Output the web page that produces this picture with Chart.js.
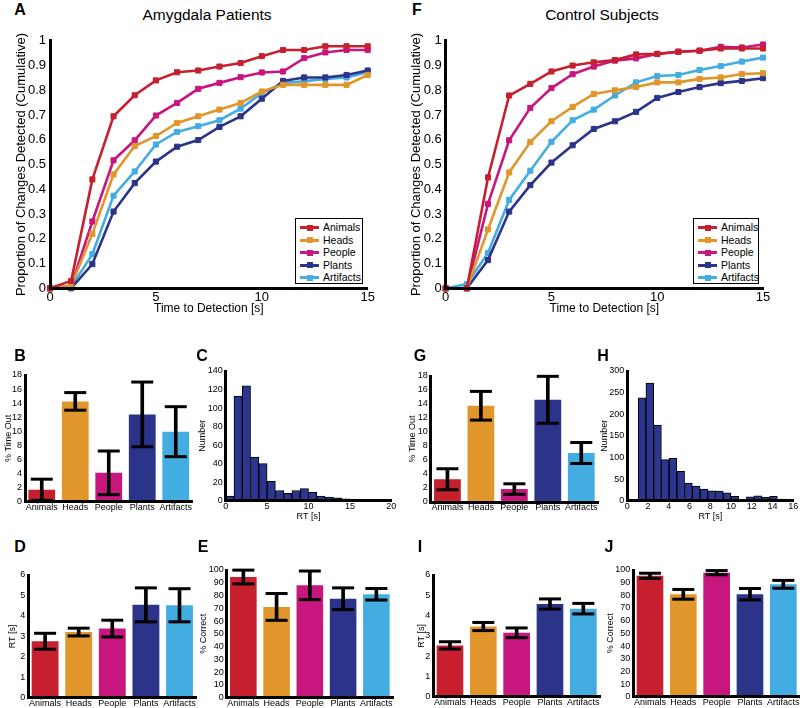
<!DOCTYPE html>
<html><head><meta charset="utf-8">
<script src="https://cdn.jsdelivr.net/npm/chart.js@4.4.0/dist/chart.umd.min.js"></script>
<style>
html,body{margin:0;padding:0;background:#fff;width:800px;height:708px;overflow:hidden;position:relative;font-family:"Liberation Sans",Arial,sans-serif;color:#000;}
.lbl{position:absolute;font-weight:bold;font-size:16px;transform:translate(-50%,-50%);line-height:1;}
.ttl{position:absolute;font-size:15.5px;transform:translate(-50%,-50%);white-space:nowrap;line-height:1;}
.leg{position:absolute;border:1px solid #000;background:#fff;box-sizing:border-box;}
.legrow{position:absolute;left:0;height:12px;font-size:10.5px;line-height:12px;white-space:nowrap;}
.legline{position:absolute;top:5px;height:3px;}
.legsq{position:absolute;top:3.5px;width:6px;height:6px;}
.legtxt{position:absolute;top:0;}
</style></head><body>
<script>
// ---------------- DATA ----------------
const timeSec = [0,1,2,3,4,5,6,7,8,9,10,11,12,13,14,15];
const categories = ['Animals','Heads','People','Plants','Artifacts'];

// A: Amygdala patients, cumulative proportion detected
const patAnimals   = [0,0.03,0.44,0.695,0.78,0.84,0.873,0.88,0.896,0.91,0.938,0.963,0.963,0.978,0.978,0.978];
const patHeads     = [0,0.01,0.22,0.46,0.575,0.615,0.668,0.695,0.722,0.749,0.795,0.822,0.822,0.822,0.822,0.862];
const patPeople    = [0,0.01,0.27,0.517,0.598,0.698,0.749,0.806,0.83,0.853,0.872,0.876,0.93,0.953,0.963,0.963];
const patPlants    = [0,0,0.098,0.31,0.425,0.512,0.572,0.599,0.652,0.695,0.766,0.838,0.852,0.852,0.862,0.88];
const patArtifacts = [0,0.005,0.138,0.374,0.472,0.581,0.632,0.655,0.679,0.726,0.789,0.829,0.836,0.846,0.852,0.873];

// F: Control subjects
const ctlAnimals   = [0,0,0.448,0.779,0.826,0.876,0.9,0.913,0.922,0.945,0.947,0.956,0.96,0.969,0.969,0.969];
const ctlHeads     = [0,0,0.238,0.468,0.591,0.675,0.733,0.785,0.8,0.813,0.832,0.832,0.846,0.852,0.866,0.869];
const ctlPeople    = [0,0,0.341,0.598,0.729,0.809,0.865,0.896,0.92,0.929,0.947,0.956,0.96,0.976,0.973,0.985];
const ctlPlants    = [0,0,0.114,0.31,0.417,0.508,0.578,0.644,0.675,0.713,0.769,0.793,0.813,0.829,0.838,0.849];
const ctlArtifacts = [0,0.017,0.143,0.357,0.475,0.592,0.679,0.722,0.779,0.832,0.858,0.862,0.882,0.898,0.916,0.932];

// B / G: % time out (mean, error)
const patTimeOut    = [1.7,14.25,4.1,12.4,9.95];
const patTimeOutErr = [1.5,1.25,3.1,4.6,3.55];
const ctlTimeOut    = [3.25,13.75,1.85,14.6,7.0];
const ctlTimeOutErr = [1.5,2.05,0.75,3.35,1.5];

// C / H: RT histograms
const patHistBins   = [0.5,1.5,2.5,3.5,4.5,5.5,6.5,7.5,8.5,9.5,10.5,11.5,12.5,13.5,14.5,15.5,16.5,17.5,18.5,19.5];
const patHistCounts = [5,113,124,47,40,21,11,8,11,13,9,5,4,3,2,1,0,0,0,0];
const ctlHistBins   = [1.423,2.168,2.913,3.658,4.403,5.148,5.893,6.638,7.383,8.128,8.873,9.618,10.363,11.108,11.853,12.598,13.343,14.088,14.833,15.578];
const ctlHistCounts = [238,272,175,95,98,68,41,34,27,23,22,18,10,3,9,11,8,10,4,2];

// D / I: RT [s]
const patRT    = [2.76,3.21,3.38,4.54,4.52];
const patRTErr = [0.39,0.19,0.41,0.83,0.81];
const ctlRT    = [2.53,3.46,3.15,4.57,4.34];
const ctlRTErr = [0.18,0.2,0.24,0.25,0.26];

// E / J: % correct
const patCorrect    = [94.5,71.1,88.0,77.5,81.0];
const patCorrectErr = [5.4,10.5,11.2,8.5,4.5];
const ctlCorrect    = [95.4,80.8,97.9,80.9,88.7];
const ctlCorrectErr = [2.05,3.85,1.65,4.5,3.1];

// ---------------- STYLE ----------------
const FONT = '"Liberation Sans", Arial, sans-serif';
const catColors = ['#c6202f','#e0962a','#c8167f','#2b3488','#43ade2'];
const histColor = '#2c3690';
Chart.defaults.font.family = FONT;
Chart.defaults.color = '#000';

function addText(cls, text, x, y) {
  const d = document.createElement('div');
  d.className = cls; d.textContent = text;
  d.style.left = x + 'px'; d.style.top = y + 'px';
  document.body.appendChild(d);
}

function axis(size, pad, extra) {
  const a = {
    grid: {display: false, drawTicks: false},
    border: {display: true, width: 3, color: '#000', z: 1},
    ticks: {color: '#000', font: {size: size}, padding: pad, autoSkip: false, maxRotation: 0}
  };
  if (extra) {
    for (const k in extra) {
      if (k === 'ticks') Object.assign(a.ticks, extra.ticks); else a[k] = extra[k];
    }
  }
  return a;
}

function makePanel(rect, yT, xT, config) {
  const PT = 10, PR = 14;
  const yLH = yT.size * 1.2;
  const cl = Math.floor(yT.x - yLH / 2 - 2);
  const ct = Math.floor(rect.t - PT);
  const Ly = rect.l - cl;
  const Lx = xT ? (xT.y + xT.size * 1.2 / 2 + 2 - rect.b) : 16;
  const W = Math.ceil(rect.r - cl + PR);
  const H = Math.ceil(rect.b - ct + Lx);
  const canvas = document.createElement('canvas');
  canvas.width = W; canvas.height = H;
  canvas.style.cssText = 'position:absolute;left:' + cl + 'px;top:' + ct + 'px;width:' + W + 'px;height:' + H + 'px;';
  document.body.appendChild(canvas);
  const o = config.options;
  o.responsive = false; o.animation = false; o.devicePixelRatio = 1;
  o.plugins = {legend: {display: false}, tooltip: {enabled: false}};
  o.layout = {padding: {left: 0, top: rect.t - ct, right: W - (rect.r - cl), bottom: H - (rect.b - ct) - Lx}};
  o.scales.x.afterFit = s => { s.height = Lx; };
  o.scales.y.afterFit = s => { s.width = Ly; };
  o.scales.y.title = {display: true, text: yT.text, color: '#000', font: {size: yT.size}, padding: {top: 2, bottom: 0}};
  if (xT) o.scales.x.title = {display: true, text: xT.text, color: '#000', font: {size: xT.size}, padding: {top: 0, bottom: 2}};
  return new Chart(canvas, config);
}

function linePanel(rect, yT, xT, series) {
  return makePanel(rect, yT, xT, {
    type: 'line',
    data: {datasets: series.map((s, i) => ({
      label: categories[i],
      data: timeSec.map((t, j) => ({x: t, y: s[j]})),
      borderColor: catColors[i], backgroundColor: catColors[i],
      borderWidth: 2.6, pointStyle: 'rect', pointRadius: 3.6, pointBorderWidth: 1,
      pointBackgroundColor: catColors[i], pointBorderColor: catColors[i],
      tension: 0, clip: false
    }))},
    options: {scales: {
      x: axis(13, 1, {type: 'linear', min: 0, max: 15, ticks: {stepSize: 5}}),
      y: axis(13, 4, {min: 0, max: 1, ticks: {stepSize: 0.1, callback: v => String(+Number(v).toFixed(1))}})
    }}
  });
}

function barPanel(rect, yT, ymax, step, means, errs) {
  const hi = means.map((m, i) => m + errs[i]);
  const lo = means.map((m, i) => m - errs[i]);
  return makePanel(rect, yT, null, {
    type: 'bar',
    data: {labels: categories, datasets: [
      {data: means, backgroundColor: catColors, grouped: false, barPercentage: 0.8, categoryPercentage: 1, order: 3},
      {data: means.map((m, i) => [lo[i], hi[i]]), backgroundColor: '#000', grouped: false, barThickness: 3, order: 2},
      {type: 'line', data: hi, showLine: false, pointStyle: 'line', pointRadius: 11, pointBorderWidth: 3, pointBorderColor: '#000', order: 1, clip: false},
      {type: 'line', data: lo, showLine: false, pointStyle: 'line', pointRadius: 11, pointBorderWidth: 3, pointBorderColor: '#000', order: 1, clip: false}
    ]},
    options: {scales: {
      x: axis(9, 0),
      y: axis(9, 3, {min: 0, max: ymax, ticks: {stepSize: step}})
    }}
  });
}

function histPanel(rect, yT, xT, bins, counts, xmax, xstep, ymax, ystep) {
  return makePanel(rect, yT, xT, {
    type: 'bar',
    data: {datasets: [{
      data: bins.map((b, i) => ({x: b, y: counts[i]})),
      backgroundColor: histColor, borderColor: '#000', borderWidth: 1,
      barPercentage: 1, categoryPercentage: 1
    }]},
    options: {scales: {
      x: axis(9, 0, {type: 'linear', offset: false, min: 0, max: xmax, ticks: {stepSize: xstep}}),
      y: axis(9, 3, {min: 0, max: ymax, ticks: {stepSize: ystep}})
    }}
  });
}

function htmlLegend(chart, left, top, width, height) {
  const box = document.createElement('div');
  box.className = 'leg';
  box.style.cssText = 'left:' + left + 'px;top:' + top + 'px;width:' + width + 'px;height:' + height + 'px;';
  chart.data.datasets.forEach((ds, i) => {
    const row = document.createElement('div');
    row.className = 'legrow';
    row.style.top = (2 + i * 12.5) + 'px';
    row.style.width = width + 'px';
    const ln = document.createElement('div'); ln.className = 'legline';
    ln.style.left = '4px'; ln.style.width = '19px'; ln.style.background = ds.borderColor;
    const sq = document.createElement('div'); sq.className = 'legsq';
    sq.style.left = '11px'; sq.style.background = ds.borderColor;
    const tx = document.createElement('div'); tx.className = 'legtxt';
    tx.style.left = '27px'; tx.textContent = ds.label;
    row.appendChild(ln); row.appendChild(sq); row.appendChild(tx);
    box.appendChild(row);
  });
  document.body.appendChild(box);
}

// ---------------- PANELS ----------------
const yLabA = 'Proportion of Changes Detected (Cumulative)';
const xLabA = 'Time to Detection [s]';

const chartA = linePanel({l: 50, t: 39, r: 367.7, b: 288.3}, {text: yLabA, x: 22, size: 13}, {text: xLabA, y: 308.5, size: 12},
  [patAnimals, patHeads, patPeople, patPlants, patArtifacts]);
const chartF = linePanel({l: 445.7, t: 39, r: 763, b: 288.3}, {text: yLabA, x: 417, size: 13}, {text: xLabA, y: 308.5, size: 12},
  [ctlAnimals, ctlHeads, ctlPeople, ctlPlants, ctlArtifacts]);
htmlLegend(chartA, 295, 218, 68, 66);
htmlLegend(chartF, 693, 218, 66, 66);

barPanel({l: 25, t: 371, r: 192.5, b: 501.7}, {text: '% Time Out', x: 9.3, size: 9}, 18, 2, patTimeOut, patTimeOutErr);
histPanel({l: 225.7, t: 371, r: 391.3, b: 500.7}, {text: 'Number', x: 203, size: 9}, {text: 'RT [s]', y: 516.7, size: 9},
  patHistBins, patHistCounts, 20, 5, 140, 20);
barPanel({l: 430.7, t: 372, r: 598, b: 502}, {text: '% Time Out', x: 413.3, size: 9}, 18, 2, ctlTimeOut, ctlTimeOutErr);
histPanel({l: 627.3, t: 371, r: 793.3, b: 500.7}, {text: 'Number', x: 605, size: 9}, {text: 'RT [s]', y: 517, size: 9},
  ctlHistBins, ctlHistCounts, 16, 2, 300, 50);

barPanel({l: 28.3, t: 571, r: 196.3, b: 697.7}, {text: 'RT [s]', x: 13.3, size: 9}, 6, 1, patRT, patRTErr);
barPanel({l: 226.7, t: 566.7, r: 393, b: 697.7}, {text: '% Correct', x: 204, size: 9}, 100, 10, patCorrect, patCorrectErr);
barPanel({l: 433.3, t: 571, r: 600, b: 696.7}, {text: 'RT [s]', x: 421.7, size: 9}, 6, 1, ctlRT, ctlRTErr);
barPanel({l: 633.3, t: 566.7, r: 800, b: 696.7}, {text: '% Correct', x: 610.7, size: 9}, 100, 10, ctlCorrect, ctlCorrectErr);

// titles and panel letters
addText('ttl', 'Amygdala Patients', 207, 15);
addText('ttl', 'Control Subjects', 602, 15);
[['A',20,10],['F',417,10],['B',20,356],['C',202,356],['G',420,356],['H',603,356],
 ['D',20,547],['E',203,547],['I',420,547],['J',609,547]].forEach(p => addText('lbl', p[0], p[1], p[2]));
</script>
</body></html>
